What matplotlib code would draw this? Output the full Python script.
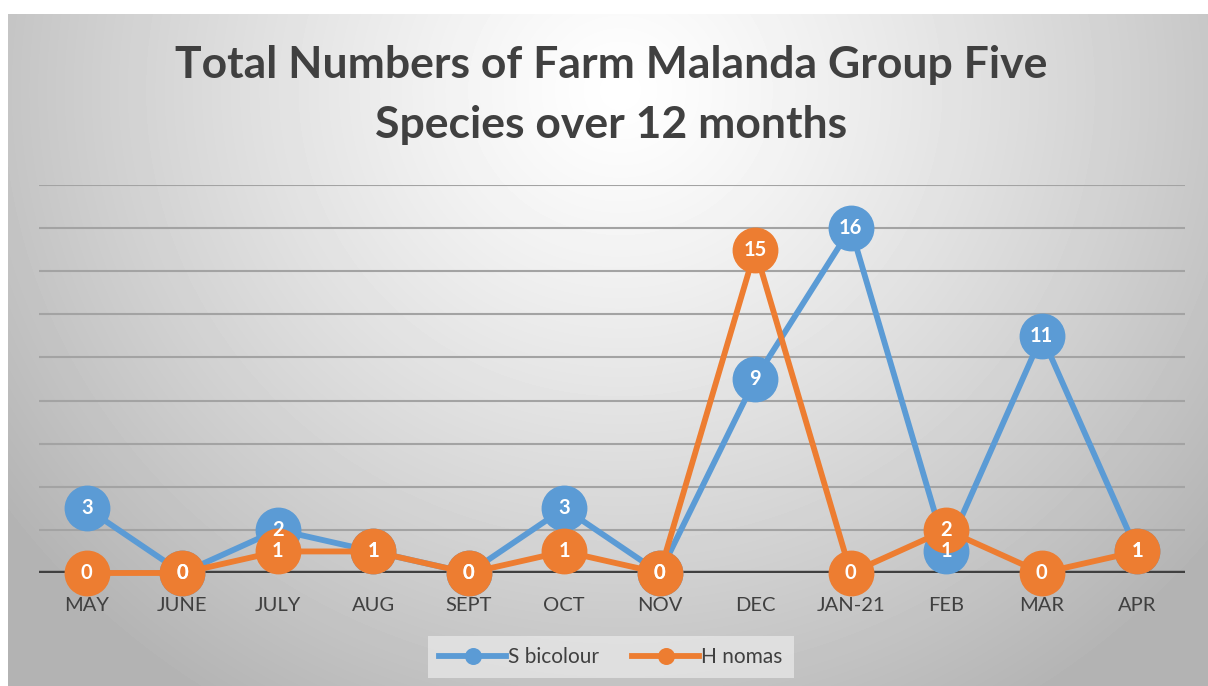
import numpy as np
import matplotlib
matplotlib.use('Agg')
import matplotlib.pyplot as plt

months = ['MAY', 'JUNE', 'JULY', 'AUG', 'SEPT', 'OCT', 'NOV', 'DEC', 'JAN-21', 'FEB', 'MAR', 'APR']
s_bicolour = [3, 0, 2, 1, 0, 3, 0, 9, 16, 1, 11, 1]
h_nomas = [0, 0, 1, 1, 0, 1, 0, 15, 0, 2, 0, 1]

blue = '#5B9BD5'
orange = '#ED7D31'
text_col = '#404040'
font = 'Lato'

W, H = 1208, 686
fig = plt.figure(figsize=(W / 100, H / 100), dpi=100)

# radial grey background of the chart area
bg = fig.add_axes([8 / W, 0, 1 - 8 / W, (H - 14) / H])
yy, xx = np.mgrid[14:H, 8:W]
d = np.sqrt(((xx - 620) / 1.0) ** 2 + ((yy - 90) / 0.95) ** 2) / 680
shade = np.clip(255 - 66 * d ** 1.2, 180, 255) / 255
bg.imshow(shade, cmap='gray', vmin=0, vmax=1, aspect='auto', interpolation='bilinear')
bg.axis('off')

ax = fig.add_axes([39 / W, (H - 573) / H, (1185 - 39) / W, (573 - 185) / H])
ax.patch.set_alpha(0)
x = np.arange(len(months))

ax.set_xlim(-0.5, len(months) - 0.5)
ax.set_ylim(0, 18)
for g in range(2, 19, 2):
    ax.axhline(g, color='#a3a3a3', lw=1.5, zorder=1)
ax.axhline(0, color=text_col, lw=3.2, zorder=2)

ax.plot(x, s_bicolour, color=blue, lw=4.2, marker='o', ms=32, clip_on=False, zorder=3,
        label='S bicolour')
ax.plot(x, h_nomas, color=orange, lw=4.2, marker='o', ms=32, clip_on=False, zorder=4,
        label='H nomas')

for xi, v in zip(x, s_bicolour):
    ax.text(xi, v, str(v), color='white', fontsize=14.5, fontweight='bold', family=font,
            ha='center', va='center', zorder=6)
for xi, v in zip(x, h_nomas):
    ax.text(xi, v, str(v), color='white', fontsize=14.5, fontweight='bold', family=font,
            ha='center', va='center', zorder=6)

ax.set_xticks(x)
ax.set_xticklabels(months, fontsize=14.5, color=text_col, family=font)
ax.tick_params(axis='x', length=0, pad=17)
ax.set_yticks([])
for s in ax.spines.values():
    s.set_visible(False)

fig.text(611 / W, 1 - 95 / H, 'Total Numbers of Farm Malanda Group Five\nSpecies over 12 months',
         ha='center', va='center', fontsize=32, fontweight='bold', color=text_col,
         family=font, linespacing=1.6)

leg = ax.legend(loc='center', bbox_to_anchor=(611 / W, 1 - 657 / H), bbox_transform=fig.transFigure,
                ncol=2, frameon=True, fancybox=False, markerscale=0.35,
                handlelength=3.2, columnspacing=1.6, handletextpad=0.1,
                borderpad=0.55, prop={'family': font, 'size': 15})
leg.get_frame().set_facecolor('#e6e6e6')
leg.get_frame().set_edgecolor('none')
leg.get_frame().set_alpha(0.8)
for t in leg.get_texts():
    t.set_color(text_col)

fig.savefig('out.png', dpi=100)
